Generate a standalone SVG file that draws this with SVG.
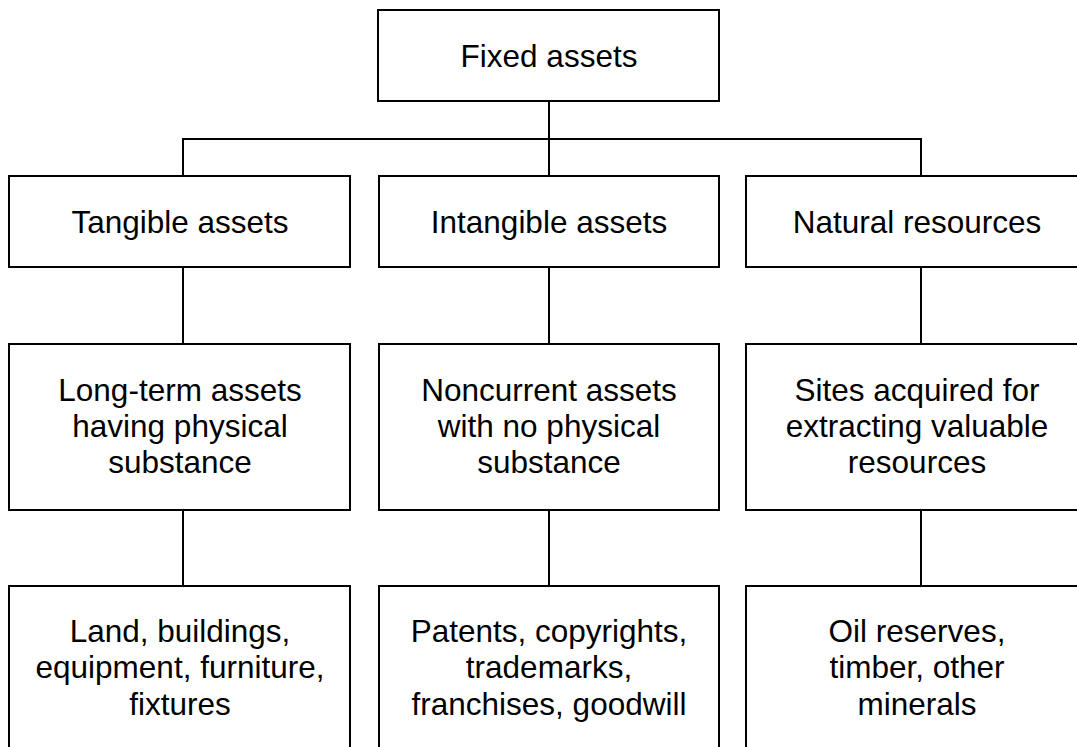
<svg xmlns="http://www.w3.org/2000/svg" width="1077" height="747" viewBox="0 0 1077 747">
  <style>
    .box { fill: #ffffff; stroke: #000000; stroke-width: 2; }
    .wire { fill: none; stroke: #000000; stroke-width: 2; }
    .lbl { font-family: "Liberation Sans", Arial, sans-serif; font-size: 31.5px; fill: #000000; text-anchor: middle; }
  </style>
  <rect width="1077" height="747" fill="#ffffff"/>

  <!-- connectors -->
  <g id="connectors">
    <path class="wire" d="M549 101 V176"/>
    <path class="wire" d="M183 176 V139 H921 V176"/>
    <path class="wire" d="M183 267 V344"/>
    <path class="wire" d="M549 267 V344"/>
    <path class="wire" d="M921 267 V344"/>
    <path class="wire" d="M183 510 V586"/>
    <path class="wire" d="M549 510 V586"/>
    <path class="wire" d="M921 510 V586"/>
  </g>

  <g id="fixed-assets">
    <rect class="box" x="378" y="10" width="341" height="91"/>
    <text class="lbl" x="549" y="67">Fixed assets</text>
  </g>

  <g id="tangible-assets">
    <rect class="box" x="9" y="176" width="341" height="91"/>
    <text class="lbl" x="180" y="233">Tangible assets</text>
  </g>
  <g id="intangible-assets">
    <rect class="box" x="379" y="176" width="340" height="91"/>
    <text class="lbl" x="549" y="233">Intangible assets</text>
  </g>
  <g id="natural-resources">
    <rect class="box" x="746" y="176" width="342" height="91"/>
    <text class="lbl" x="917" y="233">Natural resources</text>
  </g>

  <g id="tangible-desc">
    <rect class="box" x="9" y="344" width="341" height="166"/>
    <text class="lbl" x="180" y="401">Long-term assets</text>
    <text class="lbl" x="180" y="437">having physical</text>
    <text class="lbl" x="180" y="473">substance</text>
  </g>
  <g id="intangible-desc">
    <rect class="box" x="379" y="344" width="340" height="166"/>
    <text class="lbl" x="549" y="401">Noncurrent assets</text>
    <text class="lbl" x="549" y="437">with no physical</text>
    <text class="lbl" x="549" y="473">substance</text>
  </g>
  <g id="natural-desc">
    <rect class="box" x="746" y="344" width="342" height="166"/>
    <text class="lbl" x="917" y="401">Sites acquired for</text>
    <text class="lbl" x="917" y="437">extracting valuable</text>
    <text class="lbl" x="917" y="473">resources</text>
  </g>

  <g id="tangible-examples">
    <rect class="box" x="9" y="586" width="341" height="180"/>
    <text class="lbl" x="180" y="642">Land, buildings,</text>
    <text class="lbl" x="180" y="678">equipment, furniture,</text>
    <text class="lbl" x="180" y="715">fixtures</text>
  </g>
  <g id="intangible-examples">
    <rect class="box" x="379" y="586" width="340" height="180"/>
    <text class="lbl" x="549" y="642">Patents, copyrights,</text>
    <text class="lbl" x="549" y="678">trademarks,</text>
    <text class="lbl" x="549" y="715">franchises, goodwill</text>
  </g>
  <g id="natural-examples">
    <rect class="box" x="746" y="586" width="342" height="180"/>
    <text class="lbl" x="917" y="642">Oil reserves,</text>
    <text class="lbl" x="917" y="678">timber, other</text>
    <text class="lbl" x="917" y="715">minerals</text>
  </g>
</svg>
